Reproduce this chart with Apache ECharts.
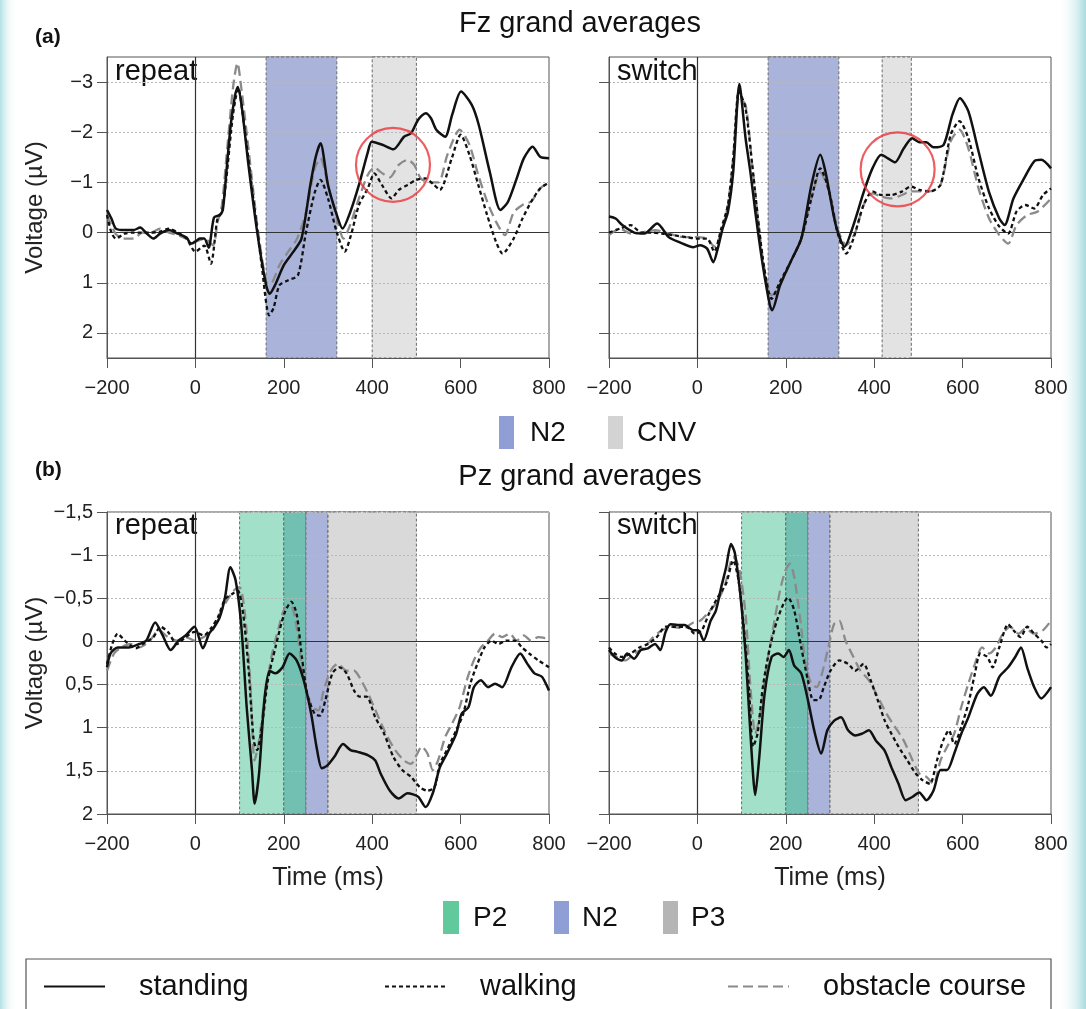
<!DOCTYPE html>
<html>
<head>
<meta charset="utf-8">
<script src="https://cdn.jsdelivr.net/npm/echarts@6/dist/echarts.min.js"></script>
<style>html,body{margin:0;padding:0;background:#fff;}#c{width:1086px;height:1009px;}</style>
</head>
<body>
<div id="c"></div>
<script>
// ---------- DATA ----------
const timeTicks = [-200, 0, 200, 400, 600, 800];
const fzTicks = [-3, -2, -1, 0, 1, 2];
const pzTicks = [-1.5, -1, -0.5, 0, 0.5, 1, 1.5, 2];
const seriesNames = ['standing', 'walking', 'obstacle course'];
const panelLabels = ['repeat', 'switch', 'repeat', 'switch'];
const fzBandNames = ['N2', 'CNV'];
const pzBandNames = ['P2', 'N2', 'P3'];

// bands [start, end, kind]
const fzRepeatBands = [[160, 320, 'N2'], [400, 500, 'CNV']];
const fzSwitchBands = [[160, 320, 'N2'], [418, 484, 'CNV']];
const pzRepeatBands = [[100, 200, 'P2'], [200, 250, 'P2N2'], [250, 300, 'N2'], [300, 500, 'P3']];
const pzSwitchBands = [[100, 200, 'P2'], [200, 250, 'P2N2'], [250, 300, 'N2'], [300, 500, 'P3']];

// red highlight circles [time, voltage]
const fzRepeatCircle = [447, -1.35];
const fzSwitchCircle = [453, -1.26];

// Fz repeat
const fzRepStanding = [[-200,-0.45],[-190,-0.28],[-180,-0.08],[-160,-0.05],[-140,-0.05],[-125,-0.1],[-110,0.02],[-95,0.12],[-80,0.02],[-60,-0.05],[-40,0.02],[-20,0.1],[-10,0.22],[0,0.18],[10,0.12],[20,0.12],[30,0.3],[42,-0.3],[55,-0.35],[62,-0.45],[70,-1.2],[80,-2.15],[90,-2.75],[96,-2.9],[105,-2.5],[120,-1.35],[140,0],[160,1.05],[168,1.22],[180,1.05],[200,0.65],[220,0.4],[240,0.12],[260,-0.95],[272,-1.5],[283,-1.78],[300,-0.95],[320,-0.35],[333,-0.08],[350,-0.4],[370,-0.95],[390,-1.6],[399,-1.81],[423,-1.75],[448,-1.66],[472,-1.91],[488,-1.98],[504,-2.25],[521,-2.38],[533,-2.28],[545,-2.05],[565,-1.91],[581,-2.35],[601,-2.81],[625,-2.55],[641,-2.15],[666,-1.21],[690,-0.45],[707,-0.61],[727,-1.08],[743,-1.48],[763,-1.71],[780,-1.51],[800,-1.48]];
const fzRepWalking = [[-200,-0.35],[-190,0],[-180,0.12],[-160,0.02],[-140,0],[-100,0],[-80,-0.02],[-60,-0.08],[-40,0],[-20,0.12],[0,0.38],[20,0.26],[35,0.62],[50,-0.28],[60,-0.4],[70,-1.08],[85,-2.35],[97,-2.88],[110,-2.15],[130,-0.75],[150,0.65],[167,1.65],[177,1.5],[190,1.05],[210,0.95],[232,0.85],[250,0],[270,-0.8],[283,-1.05],[300,-0.68],[320,0],[338,0.38],[352,0.05],[370,-0.55],[390,-0.88],[405,-1.18],[422,-0.95],[444,-0.68],[460,-0.85],[480,-0.95],[500,-1.05],[520,-1.08],[540,-0.95],[553,-0.85],[580,-1.48],[600,-1.95],[620,-1.55],[640,-0.95],[660,-0.35],[680,0.18],[695,0.42],[720,0.12],[740,-0.28],[760,-0.62],[780,-0.88],[800,-1.0]];
const fzRepObstacle = [[-200,-0.35],[-180,0.03],[-160,0.12],[-140,0.12],[-120,0],[-100,0],[-80,-0.08],[-60,0],[-40,0.05],[-20,0.12],[0,0.18],[20,0.12],[40,0.25],[50,-0.2],[60,-0.55],[70,-1.48],[85,-2.88],[95,-3.38],[105,-2.8],[120,-1.68],[140,-0.15],[160,0.98],[170,1.02],[190,0.65],[210,0.38],[230,0.12],[250,-0.4],[270,-1.28],[283,-1.48],[300,-0.95],[320,-0.28],[335,0.12],[350,-0.15],[370,-0.68],[390,-1.15],[405,-1.3],[420,-1.2],[440,-1.1],[460,-1.35],[480,-1.45],[495,-1.35],[510,-1.08],[530,-1.0],[550,-1.0],[570,-1.55],[598,-2.05],[620,-1.75],[640,-1.15],[660,-0.62],[680,-0.22],[700,0.05],[720,-0.4],[740,-0.55],[760,-0.62],[780,-0.88],[800,-1.0]];

// Fz switch
const fzSwStanding = [[-200,-0.32],[-185,-0.28],[-170,-0.15],[-143,0],[-120,0.02],[-91,-0.18],[-65,0.09],[-41,0.19],[-9,0.29],[6,0.25],[22,0.32],[36,0.59],[46,0.32],[57,-0.08],[69,-0.41],[81,-1.21],[95,-2.96],[109,-1.88],[120,-1.2],[132,-0.35],[148,0.65],[164,1.45],[169,1.55],[187,1.05],[211,0.58],[235,0.12],[258,-0.95],[278,-1.55],[290,-1.2],[313,-0.15],[333,0.28],[353,-0.15],[376,-0.8],[396,-1.28],[416,-1.55],[431,-1.48],[447,-1.4],[467,-1.68],[486,-1.88],[502,-1.8],[518,-1.8],[534,-1.7],[557,-1.75],[577,-2.35],[594,-2.68],[613,-2.42],[636,-1.62],[660,-0.8],[683,-0.28],[695,-0.15],[715,-0.68],[739,-1.08],[762,-1.42],[778,-1.45],[800,-1.28]];
const fzSwWalking = [[-200,0],[-175,-0.08],[-151,-0.15],[-127,0],[-104,0],[-80,0.02],[-57,0.05],[-25,0.09],[-2,0.12],[22,0.12],[38,0.38],[54,-0.08],[69,-0.55],[81,-1.48],[94,-2.82],[109,-2.48],[124,-1.35],[148,0.52],[168,1.32],[187,0.98],[211,0.58],[235,0.12],[258,-0.68],[278,-1.28],[298,-0.82],[317,0],[337,0.42],[353,0.12],[376,-0.55],[396,-0.82],[416,-0.75],[439,-0.75],[463,-0.82],[483,-0.92],[502,-0.85],[526,-0.82],[550,-0.95],[573,-1.95],[593,-2.22],[613,-1.88],[636,-1.08],[660,-0.48],[683,-0.12],[703,0.02],[722,-0.42],[742,-0.55],[762,-0.48],[782,-0.75],[800,-0.88]];
const fzSwObstacle = [[-200,0.05],[-175,-0.08],[-151,0.02],[-127,0],[-96,-0.05],[-65,0.02],[-33,0.09],[-2,0.09],[22,0.12],[38,0.28],[54,0],[69,-0.55],[81,-1.48],[94,-2.68],[109,-2.55],[124,-1.35],[148,0.52],[168,1.25],[187,1.05],[211,0.58],[235,0.12],[258,-0.68],[278,-1.2],[298,-0.82],[317,-0.08],[337,0.25],[357,0],[376,-0.55],[396,-0.78],[416,-0.72],[439,-0.68],[463,-0.75],[483,-0.82],[502,-0.82],[526,-0.82],[550,-0.95],[573,-1.82],[593,-2.05],[613,-1.68],[636,-0.88],[660,-0.28],[683,0.05],[703,0.22],[722,-0.15],[746,-0.35],[770,-0.42],[800,-0.68]];

// Pz repeat
const pzRepStanding = [[-200,0.3],[-192,0.14],[-176,0.07],[-151,0.07],[-127,0.03],[-111,-0.01],[-91,-0.22],[-74,-0.07],[-56,0.1],[-38,-0.01],[-22,-0.07],[-2,-0.17],[17,0.08],[31,-0.09],[43,-0.17],[55,-0.28],[67,-0.51],[79,-0.86],[91,-0.71],[104,-0.17],[116,0.76],[128,1.49],[134,1.88],[144,1.53],[156,0.68],[168,0.34],[181,0.37],[197,0.3],[213,0.14],[229,0.22],[245,0.45],[262,0.84],[274,1.22],[286,1.47],[298,1.44],[314,1.34],[334,1.19],[351,1.26],[367,1.28],[391,1.32],[407,1.38],[419,1.53],[440,1.73],[460,1.82],[480,1.76],[504,1.8],[521,1.92],[537,1.76],[553,1.46],[569,1.3],[590,1.07],[602,0.84],[618,0.76],[630,0.53],[646,0.45],[662,0.53],[678,0.49],[694,0.53],[715,0.3],[735,0.14],[751,0.26],[767,0.37],[784,0.41],[800,0.57]];
const pzRepWalking = [[-200,0.26],[-188,0.03],[-176,-0.09],[-160,-0.01],[-135,0.08],[-119,0.03],[-95,-0.05],[-79,-0.17],[-62,-0.11],[-42,0.03],[-22,-0.05],[-2,-0.11],[19,-0.07],[35,-0.15],[51,-0.28],[67,-0.49],[83,-0.55],[96,-0.59],[108,-0.32],[120,0.3],[132,1.15],[140,1.26],[152,0.92],[164,0.45],[181,0.07],[201,-0.32],[217,-0.46],[229,-0.32],[241,0.18],[253,0.61],[270,0.84],[282,0.86],[294,0.68],[310,0.37],[326,0.3],[342,0.37],[359,0.57],[371,0.64],[387,0.64],[407,0.88],[427,1.07],[448,1.34],[468,1.49],[488,1.57],[508,1.69],[525,1.73],[541,1.69],[553,1.42],[569,1.26],[590,1.03],[606,0.84],[622,0.49],[638,0.26],[654,0.07],[670,-0.01],[686,0.03],[703,-0.01],[723,-0.01],[739,0.07],[755,0.14],[776,0.22],[800,0.3]];
const pzRepObstacle = [[-200,0.34],[-184,0.14],[-168,0.07],[-147,0.03],[-127,0.07],[-103,-0.01],[-83,-0.13],[-62,-0.05],[-42,-0.01],[-22,-0.05],[-2,-0.01],[19,-0.05],[39,-0.13],[55,-0.32],[71,-0.47],[87,-0.59],[100,-0.63],[112,-0.32],[124,0.45],[134,1.38],[144,1.15],[156,0.68],[172,0.18],[189,-0.17],[205,-0.4],[217,-0.4],[229,-0.17],[241,0.3],[253,0.61],[265,0.76],[278,0.8],[290,0.57],[306,0.34],[322,0.26],[342,0.34],[359,0.34],[375,0.45],[391,0.61],[411,0.84],[431,1.07],[452,1.26],[472,1.38],[488,1.42],[500,1.32],[512,1.22],[525,1.3],[537,1.49],[549,1.38],[565,1.11],[581,0.95],[598,0.76],[614,0.45],[630,0.22],[646,0.07],[662,-0.01],[678,-0.09],[694,-0.05],[711,-0.09],[727,-0.01],[743,-0.07],[759,-0.01],[776,-0.05],[800,-0.03]];

// Pz switch
const pzSwStanding = [[-200,0.1],[-187,0.18],[-171,0.22],[-159,0.14],[-143,0.2],[-128,0.1],[-112,0.08],[-96,0.03],[-84,0.1],[-72,-0.11],[-61,-0.2],[-45,-0.19],[-29,-0.19],[-9,-0.13],[2,-0.13],[14,-0.01],[30,-0.24],[42,-0.36],[54,-0.63],[65,-0.86],[76,-1.13],[85,-1.02],[97,-0.55],[109,0.14],[120,1.07],[131,1.78],[140,1.34],[152,0.61],[168,0.18],[183,0.14],[195,0.18],[207,0.1],[219,0.28],[235,0.37],[250,0.68],[266,1.07],[280,1.3],[294,1.03],[309,0.92],[325,0.88],[341,1.03],[357,1.09],[372,1.07],[388,1.03],[404,1.15],[423,1.26],[439,1.46],[455,1.65],[471,1.84],[487,1.8],[502,1.75],[518,1.84],[534,1.73],[550,1.49],[565,1.49],[581,1.3],[597,1.07],[613,0.88],[633,0.61],[648,0.53],[664,0.63],[683,0.41],[703,0.3],[719,0.18],[732,0.07],[746,0.3],[762,0.53],[778,0.66],[800,0.53]];
const pzSwWalking = [[-200,0.07],[-187,0.14],[-171,0.18],[-151,0.14],[-131,0.07],[-112,0.03],[-92,-0.05],[-72,-0.17],[-49,-0.17],[-25,-0.17],[-6,-0.09],[10,-0.13],[26,-0.32],[46,-0.51],[65,-0.67],[81,-0.94],[93,-0.71],[105,-0.17],[117,0.57],[126,1.22],[136,1.07],[148,0.53],[164,0.07],[180,-0.24],[195,-0.44],[205,-0.51],[219,-0.36],[235,0.07],[250,0.45],[262,0.68],[274,0.68],[286,0.53],[301,0.34],[321,0.22],[341,0.26],[357,0.34],[376,0.26],[392,0.45],[408,0.68],[424,0.92],[439,1.07],[455,1.22],[475,1.38],[494,1.53],[510,1.61],[526,1.65],[542,1.38],[556,1.15],[569,1.03],[581,1.19],[597,0.99],[613,0.72],[628,0.37],[640,0.14],[656,0.18],[668,0.3],[683,0.07],[703,-0.2],[715,-0.13],[731,-0.05],[746,-0.17],[762,-0.09],[778,-0.01],[790,0.07],[800,0.03]];
const pzSwObstacle = [[-200,0.14],[-183,0.18],[-163,0.22],[-143,0.14],[-120,0.07],[-100,-0.05],[-80,-0.13],[-57,-0.17],[-33,-0.15],[-9,-0.22],[6,-0.24],[22,-0.32],[42,-0.44],[61,-0.63],[81,-0.98],[94,-0.86],[109,-0.32],[120,0.53],[131,1.07],[142,0.84],[156,0.3],[172,-0.17],[187,-0.59],[199,-0.82],[209,-0.9],[219,-0.75],[233,-0.24],[246,0.3],[258,0.49],[270,0.53],[282,0.37],[298,0.03],[309,-0.2],[321,-0.24],[335,-0.01],[353,0.18],[369,0.34],[388,0.45],[408,0.64],[428,0.84],[447,0.99],[467,1.15],[487,1.38],[502,1.53],[518,1.57],[534,1.65],[550,1.38],[565,1.22],[581,1.07],[597,0.76],[613,0.49],[628,0.26],[644,0.07],[660,0.14],[675,0.07],[691,-0.09],[707,-0.17],[727,-0.09],[742,-0.15],[762,-0.09],[782,-0.13],[800,-0.24]];

// ---------- STYLE / BUILD ----------
const FONT = '"Liberation Sans", Arial, Helvetica, sans-serif';
const bandColors = { N2: '#aab4da', CNV: '#e3e3e3', P2: '#a2e0c9', P2N2: '#72c0b1', P3: '#d9d9d9' };
const bandLegendColors = { N2: '#8f9fd6', CNV: '#d3d3d3', P2: '#62c99d', P3: '#b5b5b5' };
const minus = v => String(v).replace('-', '\u2212').replace('.', ',');

const panels = [
  { grid: { left: 107, top: 57, width: 442, height: 301 }, y: 'fz', bands: fzRepeatBands, data: [fzRepStanding, fzRepWalking, fzRepObstacle], circle: fzRepeatCircle, yLabels: true, xName: false },
  { grid: { left: 609, top: 57, width: 442, height: 301 }, y: 'fz', bands: fzSwitchBands, data: [fzSwStanding, fzSwWalking, fzSwObstacle], circle: fzSwitchCircle, yLabels: false, xName: false },
  { grid: { left: 107, top: 512, width: 442, height: 302 }, y: 'pz', bands: pzRepeatBands, data: [pzRepStanding, pzRepWalking, pzRepObstacle], circle: null, yLabels: true, xName: true },
  { grid: { left: 609, top: 512, width: 442, height: 302 }, y: 'pz', bands: pzSwitchBands, data: [pzSwStanding, pzSwWalking, pzSwObstacle], circle: null, yLabels: false, xName: true }
];

const lineStyles = [
  { color: '#111111', width: 2.5, type: 'solid' },
  { color: '#111111', width: 2.3, type: [4, 3] },
  { color: '#8a8a8a', width: 2.3, type: [10, 5] }
];

const grids = [], xAxes = [], yAxes = [], series = [];
panels.forEach((p, i) => {
  grids.push(Object.assign({ show: true, borderColor: '#555', borderWidth: 1, backgroundColor: 'transparent' }, p.grid));
  xAxes.push({
    type: 'value', gridIndex: i, min: -200, max: 800, interval: 200, z: 3,
    axisLine: { show: true, onZero: false, lineStyle: { color: '#555', width: 1 } },
    axisTick: { show: true, inside: false, length: 10, lineStyle: { color: '#555' } },
    axisLabel: { show: true, margin: 20, fontSize: 20, color: '#222', fontFamily: FONT, formatter: minus, customValues: timeTicks },
    splitLine: { show: false },
    name: p.xName ? 'Time (ms)' : '', nameLocation: 'middle', nameGap: 52,
    nameTextStyle: { fontSize: 25, color: '#222', fontFamily: FONT }
  });
  const isFz = p.y === 'fz';
  const yTicks = isFz ? fzTicks : pzTicks;
  const y = {
    type: 'value', gridIndex: i, inverse: true, z: 3,
    min: isFz ? -3.5 : -1.5, max: isFz ? 2.5 : 2,
    axisLine: { show: true, onZero: false, lineStyle: { color: '#555', width: 1 } },
    axisTick: { show: true, inside: false, length: 10, lineStyle: { color: '#555' }, customValues: yTicks },
    axisLabel: { show: p.yLabels, margin: 14, fontSize: 20, color: '#222', fontFamily: FONT, formatter: minus, customValues: yTicks },
    splitLine: { show: true, lineStyle: { color: '#b8b8b8', width: 1, type: [2, 2] } },
    name: p.yLabels ? 'Voltage (\u00b5V)' : '', nameLocation: 'middle', nameGap: 60, nameRotate: 90,
    nameTextStyle: { fontSize: 24, color: '#222', fontFamily: FONT }
  };
  if (!isFz) y.interval = 0.5;
  yAxes.push(y);

  // helper series: bands + zero lines
  series.push({
    type: 'line', xAxisIndex: i, yAxisIndex: i, data: [], silent: true, z: 1,
    markArea: {
      silent: true,
      data: p.bands.map(b => [
        { xAxis: b[0], itemStyle: { color: bandColors[b[2]], borderColor: '#6a6a6a', borderWidth: 1, borderType: [3, 2] } },
        { xAxis: b[1] }
      ])
    }
  });
  series.push({
    type: 'line', xAxisIndex: i, yAxisIndex: i, data: [], silent: true, z: 4,
    markLine: {
      silent: true, symbol: ['none', 'none'], label: { show: false },
      lineStyle: { color: '#333', width: 1.2, type: 'solid' },
      data: [{ xAxis: 0 }, { yAxis: 0 }]
    }
  });
  [2, 1, 0].forEach(k => {
    series.push({
      name: seriesNames[k], type: 'line', xAxisIndex: i, yAxisIndex: i,
      data: p.data[k], showSymbol: false, symbol: 'none', smooth: 0.25, z: 5 + (2 - k),
      lineStyle: lineStyles[k], itemStyle: { color: lineStyles[k].color }, silent: true, animation: false
    });
  });
  if (p.circle) {
    series.push({
      type: 'scatter', xAxisIndex: i, yAxisIndex: i, data: [p.circle], symbol: 'circle', symbolSize: 74, z: 9, silent: true,
      itemStyle: { color: 'rgba(0,0,0,0)', borderColor: '#e8363b', borderWidth: 2.2 }
    });
  }
});

const textStyle = (t, x, y, size, opts) => ({
  type: 'text', x: x, y: y, silent: true,
  style: Object.assign({ text: t, fontSize: size, fontFamily: FONT, fill: '#111', textVerticalAlign: 'middle' }, opts || {})
});

const graphics = [
  // teal edges of the scanned background
  { type: 'rect', shape: { x: 0, y: 0, width: 16, height: 1009 }, z: -10, style: { fill: new echarts.graphic.LinearGradient(0, 0, 1, 0, [{ offset: 0, color: '#b3e1e3' }, { offset: 1, color: 'rgba(255,255,255,0)' }]) } },
  { type: 'rect', shape: { x: 1058, y: 0, width: 28, height: 1009 }, z: -10, style: { fill: new echarts.graphic.LinearGradient(0, 0, 1, 0, [{ offset: 0, color: 'rgba(255,255,255,0)' }, { offset: 1, color: '#a8dcdf' }]) } },
  textStyle('(a)', 35, 37, 21, { fontWeight: 'bold' }),
  textStyle('Fz grand averages', 580, 24, 29, { textAlign: 'center' }),
  textStyle('(b)', 35, 470, 21, { fontWeight: 'bold' }),
  textStyle('Pz grand averages', 580, 477, 29, { textAlign: 'center' }),
  textStyle(panelLabels[0], 115, 72, 29),
  textStyle(panelLabels[1], 617, 72, 29),
  textStyle(panelLabels[2], 115, 526, 29),
  textStyle(panelLabels[3], 617, 526, 29),
  // band legend (a)
  { type: 'rect', shape: { x: 499, y: 416, width: 15, height: 33 }, style: { fill: bandLegendColors.N2 } },
  textStyle(fzBandNames[0], 530, 433, 28),
  { type: 'rect', shape: { x: 608, y: 416, width: 15, height: 33 }, style: { fill: bandLegendColors.CNV } },
  textStyle(fzBandNames[1], 637, 433, 28),
  // band legend (b)
  { type: 'rect', shape: { x: 443, y: 901, width: 16, height: 33 }, style: { fill: bandLegendColors.P2 } },
  textStyle(pzBandNames[0], 473, 918, 28),
  { type: 'rect', shape: { x: 554, y: 901, width: 15, height: 33 }, style: { fill: bandLegendColors.N2 } },
  textStyle(pzBandNames[1], 582, 918, 28),
  { type: 'rect', shape: { x: 663, y: 901, width: 15, height: 33 }, style: { fill: bandLegendColors.P3 } },
  textStyle(pzBandNames[2], 691, 918, 28),
  // line legend frame
  { type: 'rect', shape: { x: 26, y: 959, width: 1025, height: 70 }, z: -1, style: { fill: '#fff', stroke: '#555', lineWidth: 1.2 } }
];

const legendBase = {
  orient: 'horizontal', top: 972, itemWidth: 61, itemHeight: 14, selectedMode: false, padding: 0,
  itemStyle: { opacity: 0, borderWidth: 0 },
  textStyle: { fontSize: 29, color: '#111', fontFamily: FONT, padding: [0, 0, 0, 29] }
};
const legends = [
  Object.assign({}, legendBase, { left: 43, data: [seriesNames[0]] }),
  Object.assign({}, legendBase, { left: 384, data: [seriesNames[1]] }),
  Object.assign({}, legendBase, { left: 727, data: [seriesNames[2]] })
];

const chart = echarts.init(document.getElementById('c'), null, { renderer: 'canvas' });
chart.setOption({
  backgroundColor: '#ffffff',
  animation: false,
  grid: grids, xAxis: xAxes, yAxis: yAxes, series: series,
  legend: legends, graphic: graphics
});
</script>
</body>
</html>
